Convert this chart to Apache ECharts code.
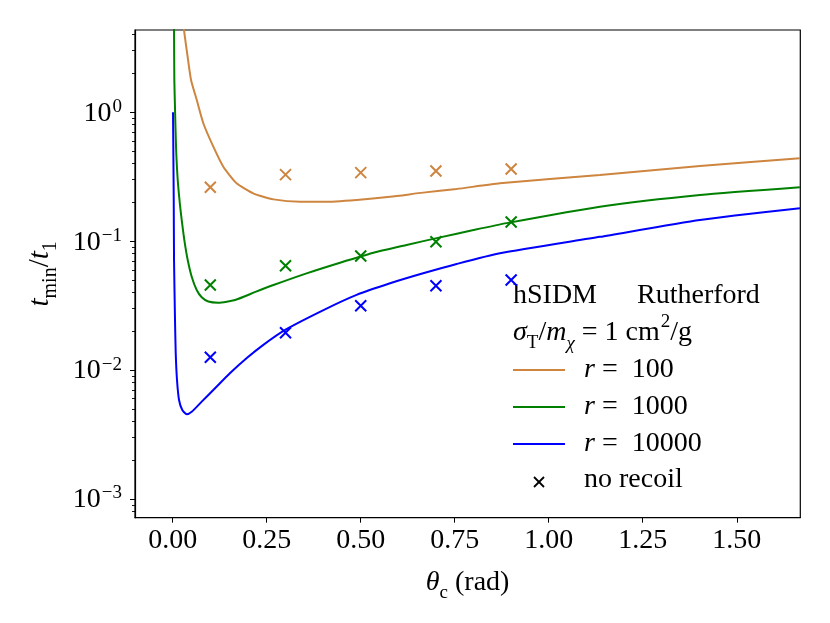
<!DOCTYPE html>
<html>
<head>
<meta charset="utf-8">
<script src="https://cdn.jsdelivr.net/npm/echarts@6/dist/echarts.min.js"></script>
<style>
  html, body { margin: 0; padding: 0; background: #fff; }
  #chart { width: 830px; height: 623px; }
</style>
</head>
<body>
<div id="chart"></div>
<script>
// curves: theta_c (rad) -> t_min / t_1
const thetaR100 = [0.0285, 0.030, 0.040, 0.0487, 0.0638, 0.0814, 0.108, 0.1346, 0.170, 0.214, 0.268, 0.339, 0.401, 0.489, 0.578, 0.666, 0.755, 0.870, 1.136, 1.402, 1.668];
const tR100 = [5.2, 4.35, 2.65, 1.78, 1.25, 0.822, 0.541, 0.378, 0.281, 0.235, 0.211, 0.202, 0.202, 0.209, 0.221, 0.238, 0.254, 0.281, 0.326, 0.383, 0.440];

const thetaR1000 = [0.003, 0.0035, 0.0043, 0.006, 0.0088, 0.0133, 0.0194, 0.0239, 0.0309, 0.0399, 0.0505, 0.0638, 0.0771, 0.0947, 0.121, 0.166, 0.220, 0.268, 0.356, 0.445, 0.534, 0.622, 0.711, 0.800, 0.888, 1.136, 1.402, 1.668];
const tR1000 = [6.0, 4.35, 1.78, 1.1, 0.54, 0.298, 0.19, 0.146, 0.102, 0.0714, 0.0530, 0.0418, 0.0367, 0.0340, 0.0333, 0.0350, 0.0404, 0.0457, 0.0563, 0.0681, 0.0814, 0.0935, 0.107, 0.122, 0.138, 0.185, 0.228, 0.262];

const thetaR10000 = [0.0008, 0.0027, 0.0035, 0.0061, 0.0080, 0.0114, 0.0168, 0.0255, 0.0372, 0.0505, 0.0771, 0.1125, 0.152, 0.197, 0.241, 0.299, 0.401, 0.489, 0.578, 0.666, 0.755, 0.870, 1.136, 1.402, 1.668];
const tR10000 = [1.0, 0.209, 0.0714, 0.0245, 0.0135, 0.00838, 0.00586, 0.0049, 0.00454, 0.00475, 0.00569, 0.00722, 0.00944, 0.0124, 0.0157, 0.0205, 0.0292, 0.0383, 0.0471, 0.0563, 0.0665, 0.0805, 0.108, 0.146, 0.180];

// "no recoil" crosses
const thetaMarks = [0.1, 0.3, 0.5, 0.7, 0.9];
const noRecoilR100 = [0.262, 0.328, 0.340, 0.350, 0.363];
const noRecoilR1000 = [0.0457, 0.0645, 0.0768, 0.0991, 0.141];
const noRecoilR10000 = [0.01257, 0.0195, 0.0316, 0.0451, 0.0500];

const xTicks = [0, 0.25, 0.5, 0.75, 1.0, 1.25, 1.5];
const yDecades = [-3, -2, -1, 0];

const X_MIN = -0.1003, X_MAX = 1.669;
const Y_MIN = -3.145, Y_MAX = 0.638;   // log10 units

const SERIF = '"Liberation Serif", "DejaVu Serif", serif';
const COLORS = { r100: '#cd853f', r1000: '#008000', r10000: '#0000ff' };
const CROSS = 'path://M0,0L10,10M10,0L0,10';
const GRID_BOX = { left: 135, top: 30, width: 665.3, height: 487.7 };

const yMinor = [];
[-4].concat(yDecades).forEach(n => {
  for (let k = 2; k <= 9; k++) {
    const v = n + Math.log10(k);
    if (v > Y_MIN && v < Y_MAX) yMinor.push(v);
  }
});

function pairs(xs, ys) {
  return xs.map((x, i) => [x, Math.log10(ys[i])]);
}

function lineSeries(name, xs, ys, color) {
  return {
    name, type: 'line', data: pairs(xs, ys),
    showSymbol: false, smooth: 0.2, clip: true,
    lineStyle: { color, width: 2 },
    z: 2
  };
}

function crossSeries(name, ys, color) {
  return {
    name, type: 'scatter', data: pairs(thetaMarks, ys),
    symbol: CROSS, symbolSize: 11,
    itemStyle: { color: 'none', borderColor: color, borderWidth: 2, opacity: 1 },
    z: 3
  };
}

function richLegend() {
  return {
    i: { fontFamily: SERIF, fontStyle: 'italic', fontSize: 28, fill: '#000' },
    n: { fontFamily: SERIF, fontSize: 28, fill: '#000' }
  };
}

const supMinus = v => (v < 0 ? '\u2212' + (-v) : String(v));

const chart = echarts.init(document.getElementById('chart'), null, { renderer: 'canvas' });

chart.setOption({
  animation: false,
  backgroundColor: '#fff',
  grid: [
    Object.assign({ show: true, borderColor: '#000', borderWidth: 1.2, backgroundColor: 'transparent' }, GRID_BOX),
    // second grid only carries the minor log ticks of the y axis
    Object.assign({ show: false }, GRID_BOX)
  ],
  xAxis: [{
    type: 'value', min: X_MIN, max: X_MAX, gridIndex: 0,
    axisLine: { show: true, onZero: false, lineStyle: { color: '#000', width: 1.2 } },
    axisTick: { show: true, customValues: xTicks, length: 5, lineStyle: { color: '#000', width: 1 } },
    axisLabel: {
      customValues: xTicks, margin: 9, color: '#000',
      fontFamily: SERIF, fontSize: 28,
      formatter: v => v.toFixed(2)
    },
    splitLine: { show: false },
    name: '{i|θ}{sub|c}{n| (rad)}',
    nameLocation: 'middle', nameGap: 45,
    nameTextStyle: {
      rich: {
        i: { fontFamily: SERIF, fontStyle: 'italic', fontSize: 28, color: '#000', lineHeight: 34, verticalAlign: 'bottom' },
        sub: { fontFamily: SERIF, fontSize: 19, color: '#000', lineHeight: 34, verticalAlign: 'bottom', padding: [0, 0, -6, 0] },
        n: { fontFamily: SERIF, fontSize: 28, color: '#000', lineHeight: 34, verticalAlign: 'bottom' }
      }
    }
  }, {
    type: 'value', min: 0, max: 1, gridIndex: 1, show: false,
    axisLine: { show: false, onZero: false }
  }],
  yAxis: [{
    type: 'value', min: Y_MIN, max: Y_MAX, position: 'left', gridIndex: 0,
    axisLine: { show: true, onZero: false, lineStyle: { color: '#000', width: 1.2 } },
    axisTick: { show: true, customValues: yDecades, length: 5, lineStyle: { color: '#000', width: 1 } },
    axisLabel: {
      customValues: yDecades, margin: 13, color: '#000',
      formatter: v => '{b|10}{s|' + supMinus(v) + '}',
      rich: {
        b: { fontFamily: SERIF, fontSize: 28, color: '#000', lineHeight: 30, verticalAlign: 'bottom' },
        s: { fontFamily: SERIF, fontSize: 19, color: '#000', lineHeight: 30, verticalAlign: 'top', padding: [0, 0, 8, 1] }
      }
    },
    splitLine: { show: false },
    name: '{i|t}{sub|min}{n|/}{i|t}{sub|1}',
    nameLocation: 'middle', nameGap: 80,
    nameTextStyle: {
      rich: {
        i: { fontFamily: SERIF, fontStyle: 'italic', fontSize: 29, color: '#000', lineHeight: 34, verticalAlign: 'bottom' },
        sub: { fontFamily: SERIF, fontSize: 20, color: '#000', lineHeight: 34, verticalAlign: 'bottom', padding: [0, 0, -6, 0] },
        n: { fontFamily: SERIF, fontSize: 29, color: '#000', lineHeight: 34, verticalAlign: 'bottom' }
      }
    }
  }, {
    type: 'value', min: Y_MIN, max: Y_MAX, position: 'left', gridIndex: 1,
    axisLine: { show: false, onZero: false },
    axisTick: { show: true, customValues: yMinor, length: 3, lineStyle: { color: '#000', width: 0.9 } },
    axisLabel: { show: false },
    splitLine: { show: false }
  }],
  graphic: [
    { type: 'text', left: 513, top: 282, style: { text: 'hSIDM', font: '28px ' + SERIF, fill: '#000' } },
    { type: 'text', left: 637, top: 282, style: { text: 'Rutherford', font: '28px ' + SERIF, fill: '#000' } },
    {
      type: 'text', left: 513, top: 313,
      style: {
        text: '{i|σ}{sub|T}{n|/}{i|m}{subi|χ}{n| = 1 cm}{sup|2}{n|/g}',
        rich: {
          i: { fontFamily: SERIF, fontStyle: 'italic', fontSize: 28, fill: '#000', lineHeight: 34, verticalAlign: 'bottom' },
          n: { fontFamily: SERIF, fontSize: 28, fill: '#000', lineHeight: 34, verticalAlign: 'bottom' },
          sub: { fontFamily: SERIF, fontSize: 19, fill: '#000', lineHeight: 34, verticalAlign: 'bottom', padding: [0, 0, -6, 0] },
          subi: { fontFamily: SERIF, fontStyle: 'italic', fontSize: 19, fill: '#000', lineHeight: 34, verticalAlign: 'bottom', padding: [0, 0, -6, 0] },
          sup: { fontFamily: SERIF, fontSize: 19, fill: '#000', lineHeight: 34, verticalAlign: 'top', padding: [0, 0, 0, 1] }
        }
      }
    },
    { type: 'line', shape: { x1: 513, y1: 370, x2: 565, y2: 370 }, style: { stroke: COLORS.r100, lineWidth: 2 } },
    { type: 'line', shape: { x1: 513, y1: 407, x2: 565, y2: 407 }, style: { stroke: COLORS.r1000, lineWidth: 2 } },
    { type: 'line', shape: { x1: 513, y1: 444, x2: 565, y2: 444 }, style: { stroke: COLORS.r10000, lineWidth: 2 } },
    { type: 'line', shape: { x1: 534, y1: 477, x2: 544, y2: 487 }, style: { stroke: '#000', lineWidth: 1.8 } },
    { type: 'line', shape: { x1: 544, y1: 477, x2: 534, y2: 487 }, style: { stroke: '#000', lineWidth: 1.8 } },
    { type: 'text', left: 584, top: 356, style: { text: '{i|r}{n| =  100}', rich: richLegend() } },
    { type: 'text', left: 584, top: 393, style: { text: '{i|r}{n| =  1000}', rich: richLegend() } },
    { type: 'text', left: 584, top: 430, style: { text: '{i|r}{n| =  10000}', rich: richLegend() } },
    { type: 'text', left: 584, top: 466, style: { text: 'no recoil', font: '28px ' + SERIF, fill: '#000' } }
  ],
  series: [
    lineSeries('r = 100', thetaR100, tR100, COLORS.r100),
    lineSeries('r = 1000', thetaR1000, tR1000, COLORS.r1000),
    lineSeries('r = 10000', thetaR10000, tR10000, COLORS.r10000),
    crossSeries('no recoil r = 100', noRecoilR100, COLORS.r100),
    crossSeries('no recoil r = 1000', noRecoilR1000, COLORS.r1000),
    crossSeries('no recoil r = 10000', noRecoilR10000, COLORS.r10000)
  ]
});
</script>
</body>
</html>
